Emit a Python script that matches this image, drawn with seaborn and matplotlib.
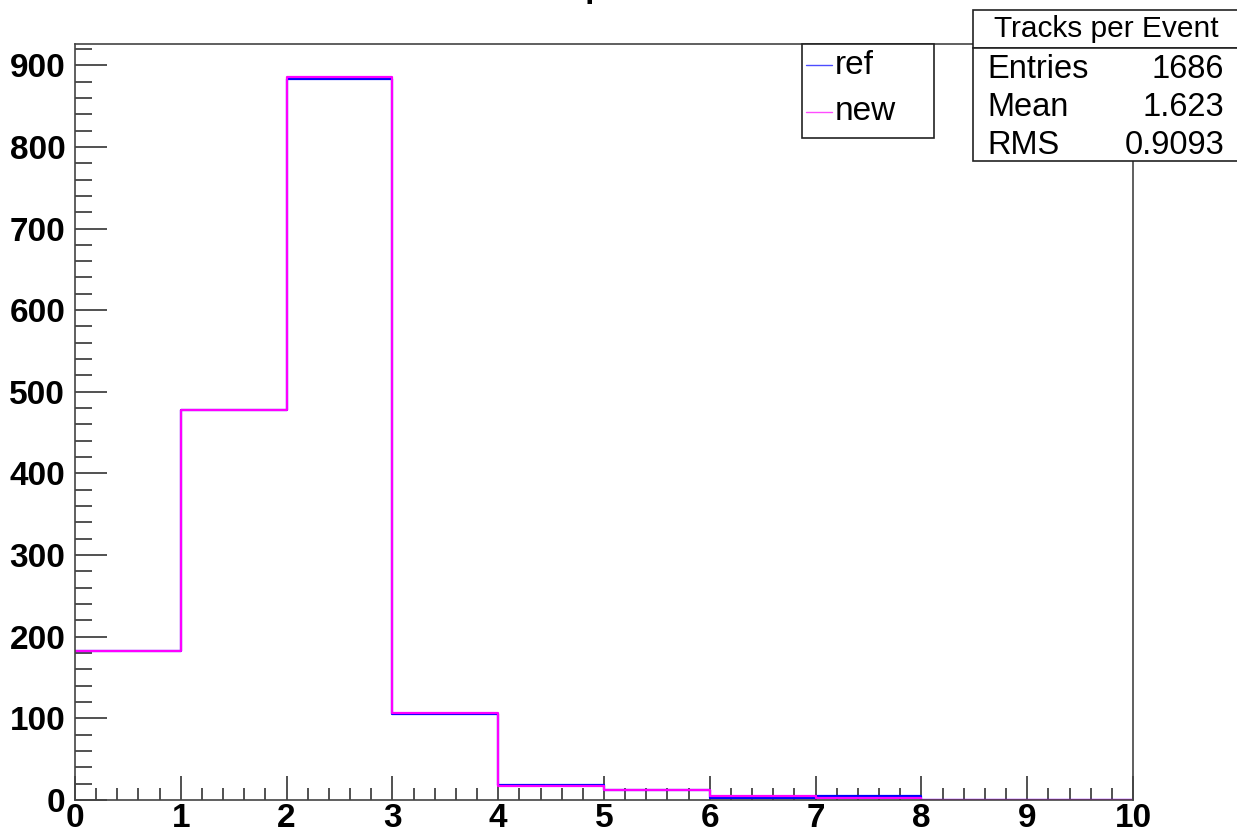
import numpy as np
import pandas as pd
import matplotlib
matplotlib.use("Agg")
import matplotlib.pyplot as plt
from matplotlib.patches import Rectangle
from matplotlib.lines import Line2D
from matplotlib.ticker import MultipleLocator
import seaborn as sns

# ---- data ----
bin_edges = [0, 1, 2, 3, 4, 5, 6, 7, 8, 9, 10]
ref_counts = [183, 478, 883, 105, 18, 12, 2, 5, 0, 0]
new_counts = [183, 478, 886, 107, 17, 12, 5, 2, 0, 0]
series_names = ["ref", "new"]
series_colors = ["#0000ff", "#ff00ff"]
stats_title = "Tracks per Event"
stats_labels = ["Entries", "Mean", "RMS"]
stats_values = ["1686", "1.623", "0.9093"]
x_ticks = list(range(0, 11))
y_ticks = list(range(0, 1000, 100))

sns.set_style("white")
plt.rcParams["font.family"] = ["Liberation Sans", "DejaVu Sans"]
plt.rcParams["text.color"] = "black"
plt.rcParams["xtick.color"] = "black"
plt.rcParams["ytick.color"] = "black"
plt.rcParams["xtick.labelcolor"] = "black"
plt.rcParams["ytick.labelcolor"] = "black"

W, H = 1237, 835
fig = plt.figure(figsize=(W / 100, H / 100), dpi=100)
L, R, B, T = 75, 1133, 800, 44
ax = fig.add_axes([L / W, 1 - B / H, (R - L) / W, (B - T) / H])

centers = [(a + b) / 2 for a, b in zip(bin_edges[:-1], bin_edges[1:])]
df = pd.DataFrame({
    "x": centers * 2,
    "w": ref_counts + new_counts,
    "series": ["ref"] * len(centers) + ["new"] * len(centers),
})
for name, col in zip(series_names, series_colors):
    sub = df[df["series"] == name]
    sns.histplot(data=sub, x="x", weights="w", bins=bin_edges, element="step",
                 fill=False, color=col, linewidth=1.6, ax=ax)

ax.set_xlim(0, 10)
ax.set_ylim(0, 926)
ax.set_xlabel("")
ax.set_ylabel("")
ax.set_xticks(x_ticks)
ax.set_yticks(y_ticks)
ax.xaxis.set_minor_locator(MultipleLocator(0.2))
ax.yaxis.set_minor_locator(MultipleLocator(20))
ax.tick_params(which="both", bottom=True, left=True, top=False, right=False)
ax.tick_params(axis="x", which="major", direction="in", length=17, width=1.2,
               color="#333333", pad=2, labelsize=24, labelcolor="black")
ax.tick_params(axis="x", which="minor", direction="in", length=9, width=1.2,
               color="#333333")
ax.tick_params(axis="y", which="major", direction="in", length=23, width=1.2,
               color="#333333", pad=7, labelsize=24, labelcolor="black")
ax.tick_params(axis="y", which="minor", direction="in", length=12, width=1.2,
               color="#333333")
for lab in ax.get_xticklabels() + ax.get_yticklabels():
    lab.set_fontweight("bold")
for s in ax.spines.values():
    s.set_visible(True)
    s.set_color("#444444")
    s.set_linewidth(1.2)

def fx(px):
    return px / W

def fy(py):
    return 1 - py / H

# clipped histogram title at the very top
fig.text(fx(604), fy(-3), stats_title, ha="center", va="baseline",
         fontsize=24, fontweight="bold", color="black")

# legend box
fig.add_artist(Rectangle((fx(802), fy(138)), fx(934) - fx(802), fy(44) - fy(138),
                         transform=fig.transFigure, facecolor="white",
                         edgecolor="#222222", linewidth=1.2))
for i, (name, col) in enumerate(zip(series_names, series_colors)):
    yy = 65 + i * 47
    fig.add_artist(Line2D([fx(806), fx(832)], [fy(yy), fy(yy)],
                          transform=fig.transFigure, color=col, linewidth=1,
                          alpha=0.7))
    fig.text(fx(835), fy(yy), name, ha="left", va="center", fontsize=24,
             color="black")

# stats box
fig.add_artist(Rectangle((fx(973), fy(48)), fx(1245) - fx(973), fy(10) - fy(48),
                         transform=fig.transFigure, facecolor="white",
                         edgecolor="#222222", linewidth=1.2))
fig.add_artist(Rectangle((fx(973), fy(161)), fx(1245) - fx(973), fy(48) - fy(161),
                         transform=fig.transFigure, facecolor="white",
                         edgecolor="#222222", linewidth=1.2))
fig.text(fx(1106), fy(29), stats_title, ha="center", va="center", fontsize=21.5,
         color="black")
for i, (lab, val) in enumerate(zip(stats_labels, stats_values)):
    yy = 69 + i * 38
    fig.text(fx(987), fy(yy), lab, ha="left", va="center", fontsize=23.5,
             color="black")
    fig.text(fx(1224), fy(yy), val, ha="right", va="center", fontsize=23.5,
             color="black")

fig.savefig("out.png", dpi=100)
